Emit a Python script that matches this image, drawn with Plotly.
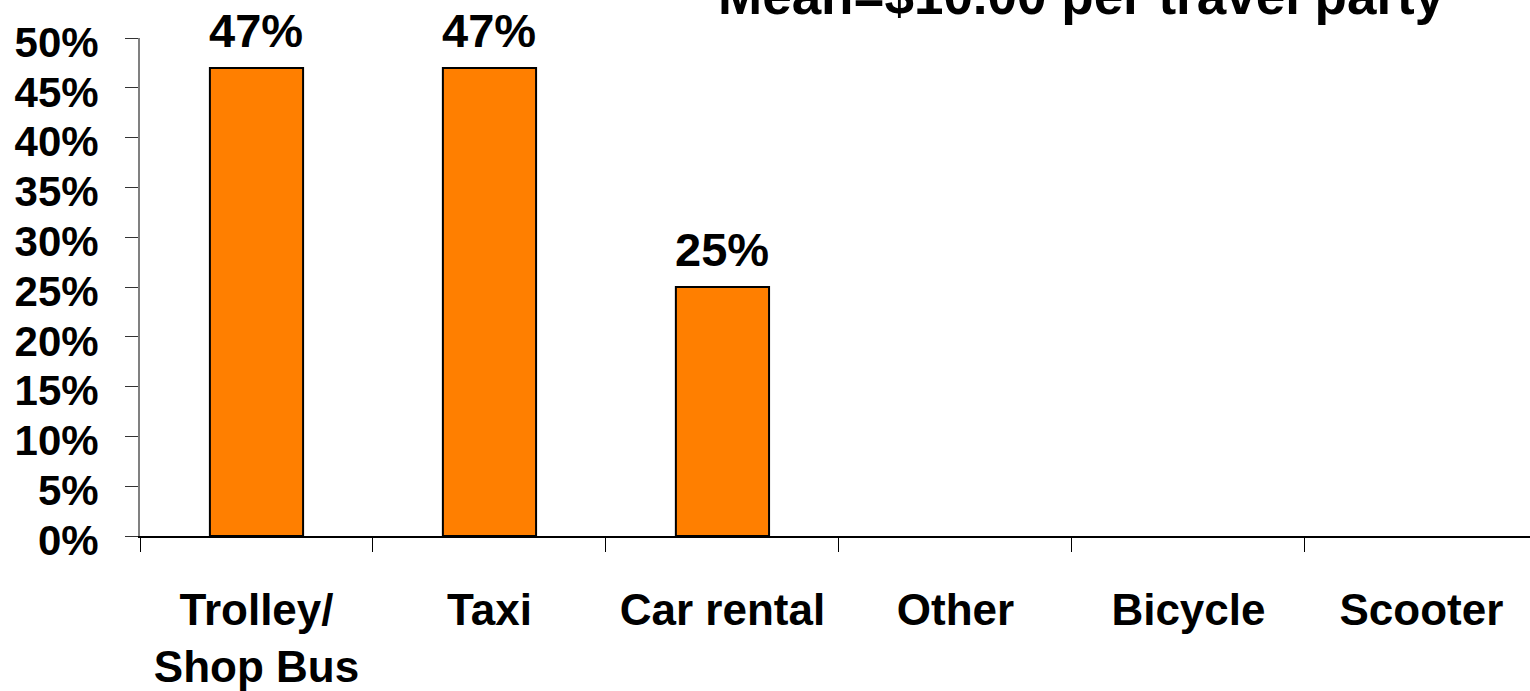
import plotly.graph_objects as go

# Share of travel parties using each local transport mode
categories = ["Trolley/<br>Shop Bus", "Taxi", "Car rental", "Other", "Bicycle", "Scooter"]
shares = [0.47, 0.47, 0.25, 0.0, 0.0, 0.0]
tick_values = [0, 0.05, 0.10, 0.15, 0.20, 0.25, 0.30, 0.35, 0.40, 0.45, 0.50]
tick_labels = ["0%", "5%", "10%", "15%", "20%", "25%", "30%", "35%", "40%", "45%", "50%"]
title_text = "Mean=$10.00 per travel party"

FONT = "Liberation Sans, Arial, sans-serif"

fig = go.Figure()
fig.add_trace(go.Bar(
    x=categories,
    y=shares,
    width=0.4,
    marker=dict(
        color="#FF7F00",
        # no outline on empty categories
        line=dict(color="#000000", width=[2 if v > 0 else 0 for v in shares]),
    ),
    hoverinfo="skip",
))

# Value labels above the non-zero bars
for cat, val in zip(categories, shares):
    if val > 0:
        fig.add_annotation(
            x=cat, y=val, xref="x", yref="y",
            text=f"<b>{round(val * 100)}%</b>",
            showarrow=False, yanchor="bottom", yshift=9,
            font=dict(family=FONT, size=47, color="#000000"),
        )

# Title, partly running off the top edge
fig.add_annotation(
    x=0.677, y=1.022, xref="paper", yref="paper",
    text=f"<b>{title_text}</b>", showarrow=False,
    xanchor="center", yanchor="bottom",
    font=dict(family=FONT, size=53, color="#000000"),
)

fig.update_layout(
    width=1530, height=691,
    margin=dict(l=140, r=0, t=38, b=155, pad=0),
    paper_bgcolor="#FFFFFF", plot_bgcolor="#FFFFFF",
    showlegend=False,
    font=dict(family=FONT, color="#000000"),
)

fig.update_xaxes(
    range=[-0.5, 5.466],
    automargin=False,
    showline=True, linecolor="#000000", linewidth=2,
    ticks="outside", tickson="boundaries", ticklen=14, tickcolor="#000000", tickwidth=1,
    tickfont=dict(family=FONT, size=44, color="#000000"),
    tickprefix="<b>", ticksuffix="</b>",
    ticklabelstandoff=34,
    showgrid=False, zeroline=False,
)

fig.update_yaxes(
    range=[0, 0.5],
    automargin=False,
    tickvals=tick_values,
    ticktext=[f"<b>{t}</b>" for t in tick_labels],
    showline=True, linecolor="#808080", linewidth=2,
    ticks="outside", ticklen=13, tickcolor="#333333", tickwidth=1,
    tickfont=dict(family=FONT, size=42, color="#000000"),
    ticklabelstandoff=18,
    ticklabelshift=4,
    showgrid=False, zeroline=False,
)

fig.write_html("out.html")
